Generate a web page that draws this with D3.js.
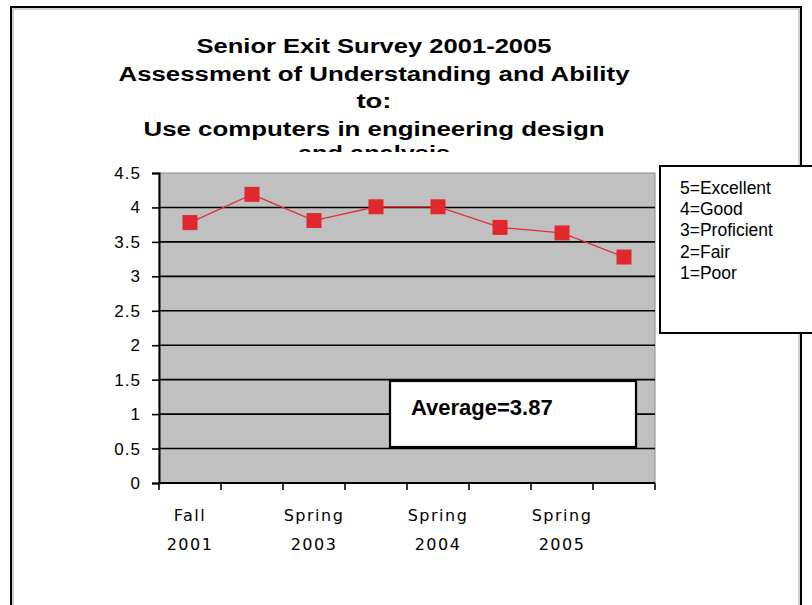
<!DOCTYPE html>
<html>
<head>
<meta charset="utf-8">
<script src="https://cdn.jsdelivr.net/npm/d3@7"></script>
<style>
  html, body { margin: 0; padding: 0; background: #fff; }
  svg { display: block; }
</style>
</head>
<body>
<svg id="chart" width="812" height="605"></svg>
<script>
// Survey sessions (only every other session carries a printed label)
const sessionLabels = [
  ["Fall", "2001"], null, ["Spring", "2003"], null,
  ["Spring", "2004"], null, ["Spring", "2005"], null
];
// Mean rating per session
const ratings = [3.78, 4.19, 3.81, 4.01, 4.01, 3.71, 3.63, 3.28];
const yTicks = [0, 0.5, 1, 1.5, 2, 2.5, 3, 3.5, 4, 4.5];
const titleLines = [
  "Senior Exit Survey 2001-2005",
  "Assessment of Understanding and Ability",
  "to:",
  "Use computers in engineering design",
  "and analysis"
];
const scaleKey = ["5=Excellent", "4=Good", "3=Proficient", "2=Fair", "1=Poor"];
const averageText = "Average=3.87";

const svg = d3.select("#chart");

// Outer frame with inset shading
svg.append("rect").attr("x", 11).attr("y", 7).attr("width", 790).attr("height", 640)
  .attr("fill", "#fff").attr("stroke", "#000").attr("stroke-width", 2);
svg.append("rect").attr("x", 13).attr("y", 9).attr("width", 786).attr("height", 640)
  .attr("fill", "none").attr("stroke", "#a0a0a0").attr("stroke-width", 1);

const plot = { left: 159, right: 655, top: 173, bottom: 483 };

const x = d3.scaleBand()
  .domain(d3.range(ratings.length))
  .range([plot.left, plot.right]);
const y = d3.scaleLinear().domain([0, 4.5]).range([plot.bottom, plot.top]);

// Title (last line is cut off by the title box)
svg.append("clipPath").attr("id", "titleClip")
  .append("rect").attr("x", 0).attr("y", 0).attr("width", 812).attr("height", 152);
const titleWidths = [355, 511, 35, 461, 152];
const titleY = [53, 80.5, 108, 135.5, 160];
const titleG = svg.append("g").attr("clip-path", "url(#titleClip)");
titleLines.forEach((t, i) => {
  titleG.append("text")
    .attr("x", 374).attr("y", titleY[i])
    .attr("text-anchor", "middle")
    .attr("font-family", "Liberation Sans, Arial, sans-serif")
    .attr("font-weight", "bold").attr("font-size", 20)
    .attr("textLength", titleWidths[i]).attr("lengthAdjust", "spacingAndGlyphs")
    .attr("fill", "#000")
    .text(t);
});

// Plot background
svg.append("rect")
  .attr("x", plot.left).attr("y", plot.top)
  .attr("width", plot.right - plot.left).attr("height", plot.bottom - plot.top)
  .attr("fill", "#c0c0c0").attr("stroke", "#8c8c8c").attr("stroke-width", 1);

// Gridlines
svg.append("g").selectAll("line")
  .data(yTicks.filter(d => d > 0 && d < 4.5))
  .join("line")
  .attr("x1", plot.left).attr("x2", plot.right)
  .attr("y1", d => y(d)).attr("y2", d => y(d))
  .attr("stroke", "#000").attr("stroke-width", 1.6);

// Y axis
const yAxis = svg.append("g")
  .attr("transform", `translate(${plot.left},0)`)
  .call(d3.axisLeft(y).tickValues(yTicks).tickSize(7).tickPadding(11)
    .tickFormat(d3.format("")));
yAxis.select(".domain").attr("stroke", "#000").attr("stroke-width", 2);
yAxis.selectAll(".tick line").attr("stroke", "#000").attr("stroke-width", 1.6);
yAxis.selectAll(".tick text")
  .attr("font-family", "Liberation Sans, Arial, sans-serif")
  .attr("font-size", 17).attr("letter-spacing", 1)
  .attr("fill", "#000");

// X axis: ticks sit on band boundaries
const xAxis = svg.append("g").attr("transform", `translate(0,${plot.bottom})`);
xAxis.append("line")
  .attr("x1", plot.left).attr("x2", plot.right)
  .attr("stroke", "#000").attr("stroke-width", 2);
const boundaries = d3.range(ratings.length + 1).map(i =>
  i < ratings.length ? x(i) : x(ratings.length - 1) + x.bandwidth());
xAxis.selectAll("line.tk").data(boundaries).join("line").attr("class", "tk")
  .attr("x1", d => d).attr("x2", d => d).attr("y1", 0).attr("y2", 7)
  .attr("stroke", "#000").attr("stroke-width", 1.6);

sessionLabels.forEach((lab, i) => {
  if (!lab) return;
  const cx = x(i) + x.bandwidth() / 2;
  lab.forEach((s, j) => {
    svg.append("text")
      .attr("x", cx).attr("y", plot.bottom + 38 + j * 29)
      .attr("text-anchor", "middle")
      .attr("font-family", "DejaVu Sans, Verdana, sans-serif")
      .attr("font-size", 16).attr("letter-spacing", 1.5)
      .attr("fill", "#000")
      .text(s);
  });
});

// Rating line and square markers
const cxOf = i => x(i) + x.bandwidth() / 2;
svg.append("path")
  .datum(ratings)
  .attr("d", d3.line().x((d, i) => cxOf(i)).y(d => y(d)))
  .attr("fill", "none").attr("stroke", "#e03038").attr("stroke-width", 1.3);
const m = 15;
svg.append("g").selectAll("rect")
  .data(ratings).join("rect")
  .attr("x", (d, i) => cxOf(i) - m / 2).attr("y", d => y(d) - m / 2)
  .attr("width", m).attr("height", m)
  .attr("fill", "#e0282e");

// Average callout
svg.append("rect")
  .attr("x", 390).attr("y", 381).attr("width", 246).attr("height", 66)
  .attr("fill", "#fff").attr("stroke", "#000").attr("stroke-width", 2.2);
svg.append("text")
  .attr("x", 411).attr("y", 415)
  .attr("font-family", "Liberation Sans, Arial, sans-serif")
  .attr("font-weight", "bold").attr("font-size", 22).attr("fill", "#000")
  .text(averageText);

// Rating scale key
svg.append("rect")
  .attr("x", 660).attr("y", 166).attr("width", 180).attr("height", 167)
  .attr("fill", "#fff").attr("stroke", "#000").attr("stroke-width", 2);
svg.append("g").selectAll("text")
  .data(scaleKey).join("text")
  .attr("x", 680).attr("y", (d, i) => 194 + i * 21.2)
  .attr("font-family", "Liberation Sans, Arial, sans-serif")
  .attr("font-size", 17.5).attr("fill", "#000")
  .text(d => d);
</script>
</body>
</html>
